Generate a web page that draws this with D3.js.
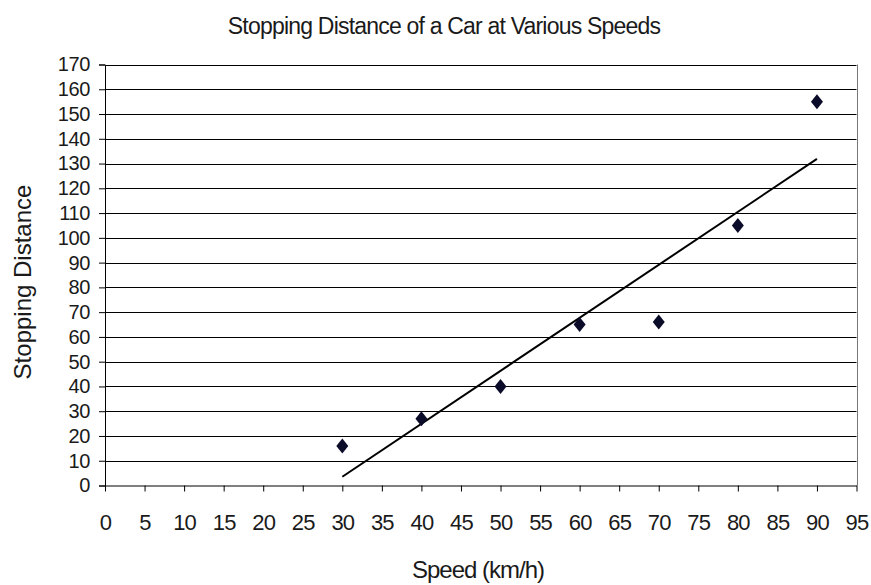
<!DOCTYPE html>
<html>
<head>
<meta charset="utf-8">
<script src="https://cdn.jsdelivr.net/npm/d3@7/dist/d3.min.js"></script>
<style>
  html, body { margin: 0; padding: 0; background: #fff; }
  svg { display: block; }
  text { font-family: "Liberation Sans", Arial, sans-serif; fill: #1a1a1a; }
</style>
</head>
<body>
<svg id="chart" width="871" height="585"></svg>
<script>
// Measured speeds (km/h) and stopping distances
const speeds = [30, 40, 50, 60, 70, 80, 90];
const distances = [16, 27, 40, 65, 66, 105, 155];

const xTicks = d3.range(0, 96, 5);
const yTicks = d3.range(0, 171, 10);

const titleText = "Stopping Distance of a Car at Various Speeds";
const xTitle = "Speed (km/h)";
const yTitle = "Stopping Distance";

const svg = d3.select("#chart");

const x = d3.scaleLinear().domain([0, 95]).range([105, 856.5]);
const y = d3.scaleLinear().domain([0, 170]).range([485.5, 64.5]);

// Horizontal gridlines
svg.append("g")
  .selectAll("line")
  .data(yTicks.filter(d => d > 0))
  .join("line")
  .attr("x1", x(0)).attr("x2", x(95))
  .attr("y1", d => Math.round(y(d)) + 0.5)
  .attr("y2", d => Math.round(y(d)) + 0.5)
  .attr("stroke", "#000")
  .attr("stroke-width", 1);

// Right border of plot area
svg.append("line")
  .attr("x1", Math.round(x(95)) + 0.5).attr("x2", Math.round(x(95)) + 0.5)
  .attr("y1", y(170)).attr("y2", y(0))
  .attr("stroke", "#777").attr("stroke-width", 1);

// Y axis
const yAxis = d3.axisLeft(y).tickValues(yTicks).tickSize(6).tickPadding(9);
const gy = svg.append("g").attr("transform", `translate(${x(0)},0)`).call(yAxis);
gy.select(".domain").attr("stroke", "#000");
gy.selectAll(".tick line").attr("stroke", "#000");
gy.selectAll(".tick text")
  .attr("font-size", 20).attr("letter-spacing", -0.4)
  .style("font-family", "'Liberation Sans', Arial, sans-serif").attr("fill", "#1a1a1a");

// X axis
const xAxis = d3.axisBottom(x).tickValues(xTicks).tickSize(6).tickSizeOuter(0).tickPadding(23);
const gx = svg.append("g").attr("transform", `translate(0,${y(0)})`).call(xAxis);
gx.select(".domain").attr("stroke", "#000");
gx.selectAll(".tick line").attr("stroke", "#000");
gx.selectAll(".tick text")
  .attr("font-size", 22).attr("letter-spacing", -0.8)
  .style("font-family", "'Liberation Sans', Arial, sans-serif").attr("fill", "#1a1a1a");

// Linear trendline (least squares fit)
const mx = d3.mean(speeds), my = d3.mean(distances);
const slope = d3.sum(speeds, (s, i) => (s - mx) * (distances[i] - my)) /
              d3.sum(speeds, s => (s - mx) * (s - mx));
const intercept = my - slope * mx;
const xMin = d3.min(speeds), xMax = d3.max(speeds);
svg.append("line")
  .attr("x1", x(xMin)).attr("y1", y(intercept + slope * xMin))
  .attr("x2", x(xMax)).attr("y2", y(intercept + slope * xMax))
  .attr("stroke", "#000").attr("stroke-width", 2);

// Diamond markers
const diamond = "M0,-7.5 L6,0 L0,7.5 L-6,0 Z";
svg.append("g")
  .selectAll("path")
  .data(speeds.map((s, i) => [s, distances[i]]))
  .join("path")
  .attr("d", diamond)
  .attr("transform", d => `translate(${x(d[0])},${y(d[1])})`)
  .attr("fill", "#0b0b2a");

// Titles
svg.append("text")
  .attr("x", 444).attr("y", 34)
  .attr("text-anchor", "middle")
  .attr("font-size", 23).attr("letter-spacing", -0.8)
  .text(titleText);

svg.append("text")
  .attr("x", 478).attr("y", 578)
  .attr("text-anchor", "middle")
  .attr("font-size", 24).attr("letter-spacing", -1)
  .text(xTitle);

svg.append("text")
  .attr("transform", "translate(31,282) rotate(-90)")
  .attr("text-anchor", "middle")
  .attr("font-size", 24).attr("letter-spacing", 0)
  .text(yTitle);
</script>
</body>
</html>
